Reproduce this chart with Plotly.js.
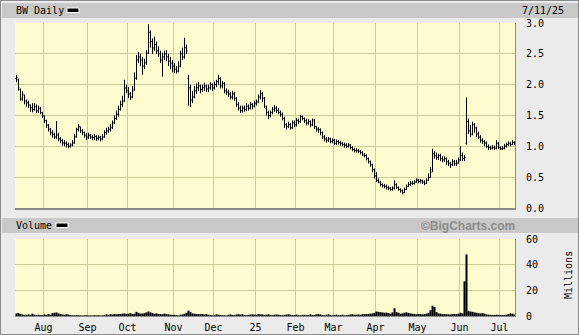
<!DOCTYPE html>
<html>
<head>
<meta charset="utf-8">
<script src="https://cdn.plot.ly/plotly-3.0.1.min.js"></script>
<style>html,body{margin:0;padding:0;background:#ebebeb;}#chart{width:579px;height:335px;}</style>
</head>
<body>
<div id="chart"></div>
<script>
// Month labels and the trading-day index where each month begins
const monthLabels = ["Aug","Sep","Oct","Nov","Dec","25","Feb","Mar","Apr","May","Jun","Jul"];
const monthStartIdx = [14,36,56,79,99,120,140,159,180,201,222,242];
const priceTicks = [0,0.5,1,1.5,2,2.5,3];
const priceTickText = ["0.0","0.5","1.0","1.5","2.0","2.5","3.0"];
const volTicks = [0,20,40,60];

// Daily OHLC (USD), Jul 12 2024 - Jul 11 2025
const openP = [
2.10,2.08,1.92,1.76,1.83,1.74,1.71,1.66,1.63,1.60,
1.64,1.57,1.61,1.54,1.49,1.41,1.34,1.27,1.23,1.19,
1.16,1.19,1.12,1.09,1.06,1.05,1.03,1.00,1.02,1.06,
1.16,1.27,1.31,1.25,1.22,1.18,1.15,1.18,1.15,1.14,
1.16,1.13,1.15,1.12,1.15,1.22,1.25,1.28,1.31,1.38,
1.45,1.52,1.60,1.68,1.74,1.94,1.90,1.85,1.80,1.92,
2.12,2.40,2.45,2.40,2.30,2.36,2.52,2.85,2.70,2.58,
2.65,2.55,2.50,2.40,2.45,2.50,2.45,2.38,2.35,2.30,
2.25,2.22,2.30,2.50,2.45,2.60,2.10,1.95,1.75,1.80,
1.90,1.95,1.98,1.92,1.95,1.98,1.93,1.95,2.00,1.95,
2.00,2.05,2.10,1.98,2.02,1.90,1.88,1.85,1.80,1.85,
1.78,1.68,1.62,1.58,1.62,1.60,1.65,1.62,1.68,1.65,
1.70,1.72,1.80,1.85,1.78,1.62,1.55,1.50,1.55,1.60,
1.62,1.58,1.55,1.52,1.45,1.35,1.32,1.35,1.30,1.38,
1.35,1.42,1.40,1.48,1.45,1.42,1.38,1.40,1.35,1.43,
1.32,1.28,1.27,1.22,1.15,1.12,1.10,1.12,1.08,1.10,
1.05,1.08,1.06,1.05,1.03,1.02,1.00,1.02,0.98,0.95,
0.93,0.93,0.92,0.90,0.86,0.85,0.80,0.75,0.70,0.62,
0.52,0.45,0.42,0.38,0.36,0.35,0.33,0.32,0.30,0.32,
0.38,0.33,0.30,0.28,0.25,0.30,0.35,0.38,0.40,0.40,
0.42,0.45,0.43,0.44,0.42,0.40,0.45,0.50,0.62,0.88,
0.85,0.82,0.85,0.80,0.78,0.80,0.75,0.72,0.70,0.75,
0.72,0.73,0.78,0.85,0.80,1.05,1.40,1.25,1.20,1.35,
1.30,1.20,1.15,1.10,1.08,1.05,1.00,0.98,0.97,0.98,
0.97,1.05,0.98,0.96,0.97,1.00,1.03,1.05,1.03,1.06];
const highP = [
2.16,2.10,1.94,1.90,1.84,1.76,1.74,1.68,1.70,1.70,
1.68,1.66,1.64,1.56,1.50,1.43,1.36,1.30,1.26,1.22,
1.41,1.22,1.15,1.12,1.10,1.08,1.06,1.05,1.10,1.20,
1.30,1.36,1.32,1.28,1.24,1.22,1.22,1.20,1.18,1.20,
1.18,1.18,1.17,1.20,1.26,1.30,1.32,1.36,1.42,1.50,
1.58,1.66,1.74,1.82,2.08,2.00,1.96,1.88,1.98,2.20,
2.48,2.53,2.50,2.45,2.42,2.56,2.98,2.88,2.75,2.78,
2.70,2.62,2.55,2.52,2.55,2.56,2.50,2.45,2.40,2.35,
2.30,2.38,2.55,2.60,2.76,2.65,2.16,2.00,1.90,1.98,
2.02,2.04,2.00,2.00,2.03,2.00,2.00,2.04,2.02,2.05,
2.08,2.16,2.12,2.06,2.04,1.94,1.92,1.88,1.90,1.88,
1.80,1.72,1.66,1.66,1.66,1.70,1.68,1.72,1.70,1.74,
1.76,1.84,1.91,1.88,1.80,1.66,1.58,1.58,1.64,1.67,
1.65,1.62,1.58,1.55,1.48,1.38,1.40,1.38,1.42,1.42,
1.46,1.45,1.51,1.50,1.47,1.45,1.44,1.42,1.45,1.44,
1.33,1.31,1.29,1.24,1.18,1.15,1.15,1.14,1.13,1.12,
1.11,1.10,1.09,1.07,1.06,1.05,1.05,1.04,1.00,0.97,
0.97,0.96,0.94,0.92,0.89,0.87,0.82,0.77,0.72,0.64,
0.58,0.48,0.44,0.40,0.39,0.38,0.36,0.34,0.35,0.45,
0.40,0.35,0.32,0.30,0.33,0.38,0.42,0.44,0.44,0.45,
0.48,0.47,0.47,0.46,0.45,0.48,0.56,0.66,0.96,0.92,
0.90,0.88,0.88,0.84,0.84,0.82,0.78,0.75,0.79,0.78,
0.78,0.82,1.00,0.90,0.86,1.79,1.45,1.35,1.40,1.38,
1.32,1.24,1.18,1.13,1.10,1.08,1.03,1.01,1.02,1.01,
1.10,1.07,1.00,1.00,1.04,1.06,1.08,1.07,1.10,1.08];
const lowP = [
2.04,1.90,1.74,1.74,1.68,1.64,1.62,1.56,1.55,1.58,
1.54,1.54,1.52,1.46,1.38,1.30,1.24,1.18,1.14,1.12,
1.12,1.08,1.05,1.01,1.00,0.98,0.97,0.98,1.00,1.04,
1.14,1.24,1.22,1.18,1.14,1.10,1.12,1.12,1.10,1.10,
1.09,1.10,1.08,1.10,1.14,1.19,1.22,1.24,1.28,1.36,
1.43,1.48,1.58,1.64,1.72,1.86,1.78,1.75,1.78,1.90,
2.08,2.35,2.30,2.16,2.25,2.32,2.50,2.60,2.50,2.55,
2.50,2.45,2.35,2.13,2.40,2.38,2.30,2.25,2.20,2.19,
2.18,2.20,2.28,2.40,2.42,2.50,1.66,1.64,1.70,1.78,
1.85,1.90,1.86,1.88,1.90,1.88,1.88,1.92,1.90,1.92,
1.96,2.00,1.94,1.94,1.86,1.83,1.80,1.76,1.76,1.74,
1.64,1.58,1.54,1.55,1.56,1.57,1.58,1.60,1.60,1.63,
1.66,1.70,1.76,1.72,1.62,1.50,1.44,1.47,1.52,1.56,
1.54,1.52,1.48,1.42,1.30,1.27,1.30,1.27,1.28,1.31,
1.32,1.36,1.38,1.42,1.38,1.34,1.35,1.31,1.33,1.28,
1.24,1.22,1.18,1.12,1.08,1.06,1.07,1.05,1.05,1.02,
1.02,1.03,1.01,1.00,0.98,0.97,0.98,0.95,0.92,0.90,
0.90,0.89,0.87,0.84,0.82,0.77,0.72,0.67,0.58,0.48,
0.42,0.40,0.35,0.33,0.32,0.30,0.29,0.28,0.28,0.30,
0.31,0.28,0.25,0.22,0.24,0.29,0.34,0.36,0.37,0.38,
0.41,0.40,0.40,0.39,0.37,0.39,0.44,0.49,0.58,0.80,
0.78,0.78,0.76,0.74,0.75,0.70,0.68,0.65,0.68,0.68,
0.68,0.72,0.76,0.76,0.76,1.03,1.20,1.15,1.18,1.22,
1.15,1.12,1.06,1.04,1.00,0.97,0.94,0.94,0.95,0.94,
0.95,0.96,0.94,0.94,0.95,0.98,1.01,1.00,1.02,1.02];
const closeP = [
2.12,1.95,1.78,1.85,1.72,1.70,1.68,1.62,1.60,1.65,
1.58,1.62,1.55,1.50,1.42,1.35,1.28,1.22,1.20,1.15,
1.18,1.12,1.10,1.05,1.05,1.03,1.00,1.02,1.05,1.15,
1.28,1.32,1.25,1.22,1.18,1.15,1.18,1.15,1.14,1.16,
1.13,1.15,1.12,1.15,1.22,1.25,1.28,1.30,1.38,1.45,
1.52,1.60,1.68,1.72,1.95,1.90,1.85,1.80,1.90,2.10,
2.40,2.45,2.40,2.30,2.35,2.50,2.85,2.70,2.60,2.65,
2.55,2.50,2.40,2.45,2.50,2.45,2.38,2.35,2.30,2.25,
2.22,2.30,2.50,2.45,2.60,2.55,1.95,1.75,1.80,1.90,
1.95,1.98,1.92,1.95,1.98,1.93,1.95,2.00,1.95,2.00,
2.05,2.10,1.98,2.02,1.90,1.88,1.85,1.80,1.85,1.78,
1.68,1.62,1.58,1.62,1.60,1.65,1.62,1.68,1.65,1.70,
1.72,1.80,1.85,1.78,1.65,1.55,1.50,1.55,1.60,1.62,
1.58,1.55,1.52,1.45,1.35,1.32,1.35,1.30,1.38,1.35,
1.42,1.40,1.48,1.45,1.42,1.38,1.40,1.35,1.43,1.32,
1.28,1.27,1.22,1.15,1.12,1.10,1.12,1.08,1.10,1.05,
1.08,1.06,1.05,1.03,1.02,1.00,1.02,0.98,0.95,0.93,
0.93,0.92,0.90,0.86,0.85,0.80,0.75,0.70,0.62,0.52,
0.45,0.42,0.38,0.36,0.35,0.33,0.32,0.30,0.32,0.38,
0.33,0.30,0.28,0.25,0.30,0.35,0.38,0.40,0.40,0.42,
0.45,0.43,0.44,0.42,0.40,0.45,0.50,0.58,0.88,0.85,
0.82,0.85,0.80,0.78,0.80,0.75,0.72,0.70,0.75,0.72,
0.73,0.78,0.85,0.80,0.82,1.40,1.25,1.20,1.35,1.30,
1.20,1.15,1.10,1.08,1.05,1.00,0.98,0.97,0.98,0.97,
1.05,0.98,0.96,0.97,1.00,1.03,1.05,1.03,1.06,1.05];
// Daily volume, millions of shares
const volumeM = [
2.0,2.2,1.5,1.2,0.8,1.0,1.2,0.9,1.8,1.0,
0.6,1.0,0.8,0.6,1.2,0.8,1.6,1.0,2.2,2.5,
2.8,2.0,1.5,1.2,1.0,1.3,1.1,0.8,0.6,0.5,
0.8,0.6,0.5,0.4,0.5,0.6,0.4,0.5,0.4,0.6,
0.5,0.6,0.4,0.5,0.6,1.2,1.0,1.3,1.2,1.5,
1.4,1.6,1.5,1.8,2.0,1.6,1.8,2.2,1.5,1.8,
3.2,2.5,1.8,2.0,2.2,2.8,3.5,2.8,2.2,1.8,
2.0,1.6,1.5,1.4,1.8,1.5,1.2,1.0,0.8,0.9,
0.6,0.5,1.0,1.2,1.8,2.5,4.2,3.0,2.0,1.8,
1.6,1.5,1.4,1.5,1.2,1.4,1.0,0.8,0.5,0.6,
1.2,1.0,0.8,0.6,0.5,0.4,1.0,1.2,0.8,0.6,
1.2,1.4,1.1,1.3,0.9,0.6,0.8,1.2,1.3,1.1,
0.9,1.5,1.4,1.2,0.8,1.1,1.3,0.7,0.6,1.0,
1.2,1.0,0.8,0.6,0.9,1.1,1.3,1.0,0.7,0.8,
1.1,0.6,0.5,0.9,1.0,0.6,0.8,1.2,0.7,0.9,
1.3,1.5,1.2,0.8,0.6,1.0,1.2,0.7,0.5,0.8,
1.0,0.6,0.7,1.0,0.5,0.6,0.9,1.2,1.3,1.0,
1.1,1.2,1.0,1.3,1.4,1.5,1.6,1.8,2.0,2.5,
3.5,3.2,3.0,2.8,2.5,2.6,2.2,1.8,2.8,6.0,
3.0,2.5,1.8,2.0,2.6,2.8,2.4,2.0,1.8,1.5,
1.4,1.6,1.5,1.3,1.5,1.8,2.5,4.5,8.0,7.0,
3.0,2.0,1.8,1.5,1.6,1.4,1.3,1.2,1.5,1.6,
1.4,1.8,2.5,2.0,27.0,48.0,4.0,3.5,3.2,2.8,
2.5,2.2,2.0,2.2,1.8,1.2,1.0,0.9,0.8,0.8,
1.0,0.9,0.8,0.7,0.8,1.0,1.5,2.0,1.8,1.2];

const dayIdx = closeP.map((_, i) => i);
const gridVals = monthStartIdx.map(v => v - 0.5);

const W = 579, H = 335;
const px = x => x / W;
const py = y => 1 - y / H;
const MONO = '"DejaVu Sans Mono", "Liberation Mono", monospace';
const GRID = '#cccc99';
const BG = '#fcfccf';
// shift by a quarter slot so 1px strokes land on pixel centres
const XR = [-0.75, 249.25];

const traces = [
  {type:'ohlc', x:dayIdx, open:openP, high:highP, low:lowP, close:closeP,
   xaxis:'x', yaxis:'y', tickwidth:0.5, hoverinfo:'skip',
   increasing:{line:{color:'#000', width:1}}, decreasing:{line:{color:'#000', width:1}}},
  {type:'bar', x:dayIdx, y:volumeM, xaxis:'x2', yaxis:'y2', width:1,
   marker:{color:'#000', line:{width:0}}, hoverinfo:'skip'}
];

const layout = {
  width:W, height:H, margin:{l:0,r:0,t:0,b:0},
  paper_bgcolor:'#ebebeb', plot_bgcolor:BG, showlegend:false,
  font:{family:MONO, size:10, color:'#000'},
  xaxis:{domain:[px(15),px(515)], range:XR, anchor:'y',
    tickvals:gridVals, showticklabels:false, ticks:'', showgrid:true, gridcolor:GRID, gridwidth:1,
    zeroline:false, showline:true, linecolor:'#8a8a8a', linewidth:2, rangeslider:{visible:false}, fixedrange:true},
  yaxis:{domain:[py(208),py(23)], range:[0,3], side:'right', anchor:'x',
    tickvals:priceTicks, ticktext:priceTickText, ticks:'', ticklabelstandoff:8,
    showgrid:true, gridcolor:GRID, zeroline:false, showline:true, linecolor:'#8a8a8a', linewidth:1,
    tickfont:{family:MONO, size:10, color:'#000'}},
  xaxis2:{domain:[px(15),px(515)], range:XR, anchor:'y2',
    tickvals:gridVals, ticktext:monthLabels, ticks:'', ticklabelstandoff:2,
    showgrid:true, gridcolor:GRID, zeroline:false, showline:true, linecolor:'#8a8a8a', linewidth:1,
    tickfont:{family:MONO, size:10, color:'#000'}},
  yaxis2:{domain:[py(316),py(239)], range:[0,60], side:'right', anchor:'x2',
    tickvals:volTicks, ticks:'', ticklabelstandoff:8,
    showgrid:true, gridcolor:GRID, zeroline:false, showline:true, linecolor:'#8a8a8a', linewidth:1,
    tickfont:{family:MONO, size:10, color:'#000'}},
  shapes:[
    {type:'rect', xref:'paper', yref:'paper', x0:px(2), x1:1, y0:py(18), y1:py(3), fillcolor:'#c8c8c8', line:{width:0}, layer:'below'},
    {type:'rect', xref:'paper', yref:'paper', x0:px(2), x1:1, y0:py(233), y1:py(218), fillcolor:'#c8c8c8', line:{width:0}, layer:'below'},
    {type:'rect', xref:'paper', yref:'paper', x0:0, x1:1, y0:0, y1:1, fillcolor:'rgba(0,0,0,0)', line:{color:'#8a8a8a', width:2}, layer:'above'},
    {type:'rect', xref:'paper', yref:'paper', x0:px(67), x1:px(79), y0:py(12.5), y1:py(8), fillcolor:'#000', line:{color:'#fff', width:1}, layer:'above'},
    {type:'rect', xref:'paper', yref:'paper', x0:px(56), x1:px(68), y0:py(227.5), y1:py(223), fillcolor:'#000', line:{color:'#fff', width:1}, layer:'above'}
  ],
  annotations:[
    {text:'BW Daily', xref:'paper', yref:'paper', x:px(14), y:py(10.5), xanchor:'left', yanchor:'middle', showarrow:false, font:{family:MONO, size:10, color:'#000'}},
    {text:'7/11/25', xref:'paper', yref:'paper', x:px(566), y:py(10.5), xanchor:'right', yanchor:'middle', showarrow:false, font:{family:MONO, size:10, color:'#000'}},
    {text:'Volume', xref:'paper', yref:'paper', x:px(14), y:py(225.5), xanchor:'left', yanchor:'middle', showarrow:false, font:{family:MONO, size:10, color:'#000'}},
    {text:'©BigCharts.com', xref:'paper', yref:'paper', x:px(517), y:py(225.5), xanchor:'right', yanchor:'middle', showarrow:false, font:{family:'"Liberation Sans", Arial, sans-serif', size:12, color:'#8c8c8c', weight:'bold'}},
    {text:'Millions', xref:'paper', yref:'paper', x:px(568), y:py(275), xanchor:'center', yanchor:'middle', textangle:-90, showarrow:false, font:{family:MONO, size:10, color:'#000'}}
  ]
};

Plotly.newPlot('chart', traces, layout, {staticPlot:true, displayModeBar:false});
</script>
</body>
</html>
